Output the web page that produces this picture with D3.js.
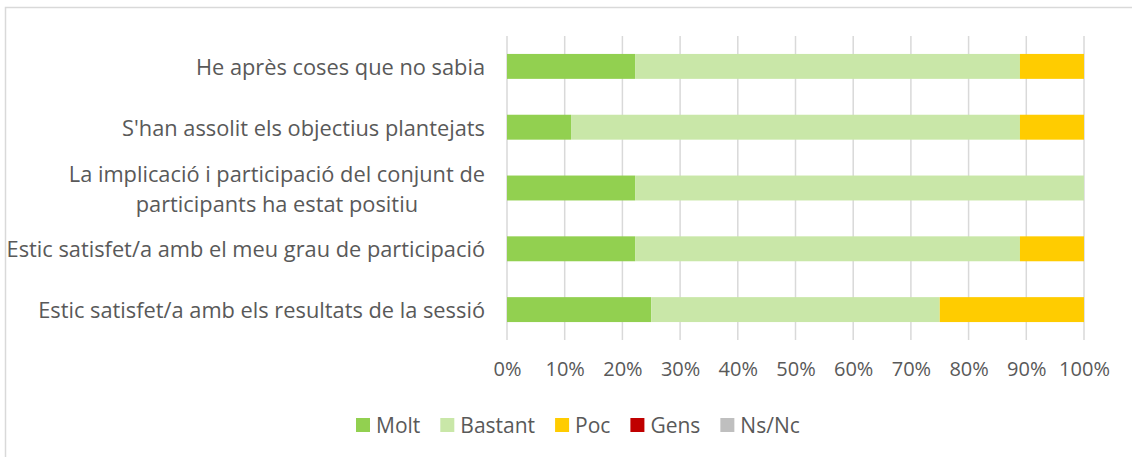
<!DOCTYPE html>
<html>
<head>
<meta charset="utf-8">
<script src="https://cdn.jsdelivr.net/npm/d3@7"></script>
<style>
  html, body { margin: 0; padding: 0; background: #fff; }
  svg { display: block; }
  text { font-family: "Open Sans", sans-serif; fill: #595959; }
</style>
</head>
<body>
<svg id="chart" width="1132" height="457"></svg>
<script>
// Survey statements (top to bottom), wrapped lines per statement
const categories = [
  ["He après coses que no sabia"],
  ["S'han assolit els objectius plantejats"],
  ["La implicació i participació del conjunt de", "participants ha estat positiu"],
  ["Estic satisfet/a amb el meu grau de participació"],
  ["Estic satisfet/a amb els resultats de la sessió"]
];
const seriesNames = ["Molt", "Bastant", "Poc", "Gens", "Ns/Nc"];
const seriesColors = ["#92D050", "#C9E7A8", "#FFCC00", "#C00000", "#BFBFBF"];

// Share of answers (%) per statement
const molt    = [22.2, 11.1, 22.2, 22.2, 25];
const bastant = [66.7, 77.8, 77.8, 66.7, 50];
const poc     = [11.1, 11.1, 0, 11.1, 25];
const gens    = [0, 0, 0, 0, 0];
const nsnc    = [0, 0, 0, 0, 0];

const tickValues = [0, 10, 20, 30, 40, 50, 60, 70, 80, 90, 100];

const svg = d3.select("#chart");
const labelFont = "21.8px";
const tickFont = "20px";
const legendFont = "21px";

// chart frame
svg.append("rect")
  .attr("x", 5.5).attr("y", 7.5)
  .attr("width", 1140).attr("height", 470)
  .attr("fill", "none").attr("stroke", "#d9d9d9").attr("stroke-width", 1.5);

const plot = { left: 507, right: 1084, top: 36, bottom: 340 };

const x = d3.scaleLinear().domain([0, 100]).range([plot.left, plot.right]);
const y = d3.scaleBand()
  .domain(d3.range(categories.length))
  .range([plot.top, plot.bottom])
  .paddingInner(0.59).paddingOuter(0.295);

// vertical gridlines
svg.append("g")
  .selectAll("line")
  .data(tickValues)
  .join("line")
  .attr("x1", d => x(d)).attr("x2", d => x(d))
  .attr("y1", plot.top).attr("y2", plot.bottom)
  .attr("stroke", "#d9d9d9").attr("stroke-width", 1.5);

// stacked bars
const rows = categories.map((c, i) => ({
  i, values: [molt[i], bastant[i], poc[i], gens[i], nsnc[i]]
}));
const stack = d3.stack()
  .keys(d3.range(seriesNames.length))
  .value((d, k) => d.values[k]);
const layers = stack(rows);

svg.append("g")
  .selectAll("g")
  .data(layers)
  .join("g")
  .attr("fill", (d, k) => seriesColors[k])
  .selectAll("rect")
  .data(d => d)
  .join("rect")
  .attr("x", d => x(d[0]))
  .attr("width", d => x(d[1]) - x(d[0]))
  .attr("y", d => y(d.data.i))
  .attr("height", y.bandwidth());

// x axis tick labels
const xAxis = d3.axisBottom(x)
  .tickValues(tickValues)
  .tickFormat(d => d + "%")
  .tickSize(0)
  .tickPadding(0);
const gx = svg.append("g")
  .attr("transform", `translate(0, ${plot.bottom + 36})`)
  .call(xAxis);
gx.select(".domain").remove();
gx.selectAll("text")
  .attr("dy", "0")
  .style("font-size", tickFont)
  .attr("fill", "#595959");

// category labels: block right-aligned, wrapped lines centred
const labelRight = 485;
const lineH = 30;
const labelG = svg.append("g");
categories.forEach((lines, i) => {
  const cy = y(i) + y.bandwidth() / 2;
  const g = labelG.append("g");
  const texts = lines.map((ln, j) => g.append("text")
    .text(ln)
    .style("font-size", labelFont)
    .attr("text-anchor", "middle")
    .attr("dominant-baseline", "central")
    .attr("y", cy + (j - (lines.length - 1) / 2) * lineH));
  const w = d3.max(texts, t => t.node().getComputedTextLength());
  texts.forEach(t => t.attr("x", labelRight - w / 2));
});

// legend
const legend = svg.append("g").attr("transform", "translate(356, 418)");
let lx = 0;
seriesNames.forEach((name, k) => {
  const item = legend.append("g").attr("transform", `translate(${lx}, 0)`);
  item.append("rect").attr("width", 14).attr("height", 14).attr("fill", seriesColors[k]);
  const t = item.append("text")
    .attr("x", 20).attr("y", 7)
    .attr("dominant-baseline", "central")
    .style("font-size", legendFont)
    .text(name);
  lx += 20 + t.node().getComputedTextLength() + 20;
});
</script>
</body>
</html>
